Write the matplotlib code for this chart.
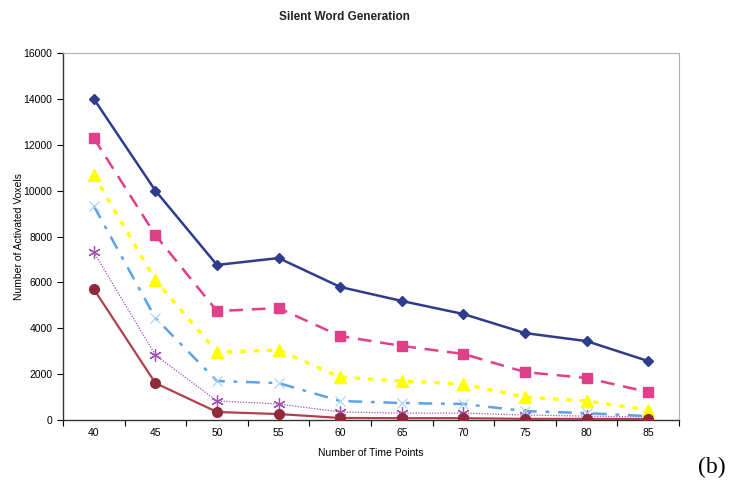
import numpy as np
import matplotlib
matplotlib.use("Agg")
import matplotlib.pyplot as plt

plt.rcParams["font.family"] = ["Liberation Sans", "DejaVu Sans"]

# time points and activated voxel counts for each threshold series
time_points = [40, 45, 50, 55, 60, 65, 70, 75, 80, 85]
s1 = [14000, 10000, 6760, 7060, 5800, 5190, 4620, 3790, 3440, 2570]
s2 = [12290, 8060, 4750, 4880, 3660, 3230, 2880, 2090, 1830, 1220]
s3 = [10680, 6100, 2960, 3050, 1870, 1700, 1570, 1000, 830, 440]
s4 = [9330, 4450, 1700, 1610, 830, 740, 700, 390, 300, 170]
s5 = [7320, 2830, 830, 700, 350, 300, 300, 220, 170, 130]
s6 = [5710, 1610, 350, 260, 90, 80, 80, 50, 50, 40]

fig = plt.figure(figsize=(7.29, 4.84), dpi=100)
ax = fig.add_axes([0.0864, 0.1322, 0.845, 0.7583])

x = np.arange(len(time_points))

ax.plot(x, s1, color="#2f3c8c", lw=1.8, marker="D", ms=5.5, zorder=6)
ax.plot(x, s2, color="#e0408a", lw=1.8, dashes=(5.5, 3.5), marker="s", ms=7, zorder=5)
ax.plot(x, s3, color="#ffff00", lw=2.4, dashes=(1.6, 2.4), marker="^", ms=8, zorder=4)
ax.plot(x, s4, color="#5ca2e6", lw=1.8, dashes=(5.5, 3.5, 1.5, 3.5), marker="x", ms=7,
        mew=0.8, mec="#a8d0f4", zorder=3)
ax.plot(x, s5, color="#a050b4", lw=0.9, ls=(0, (1, 1.2)), marker=(6, 2, 0), ms=9,
        mew=0.9, zorder=2)
ax.plot(x, s6, color="#b04050", lw=1.6, marker="o", ms=7, mfc="#8e2a3c",
        mec="#8e2a3c", zorder=7)

ax.set_xlim(-0.5, 9.5)
ax.set_ylim(0, 16000)
ax.set_yticks(np.arange(0, 16001, 2000))
ax.set_xticks(x)
ax.set_xticklabels([str(t) for t in time_points])
ax.set_xticks(np.arange(-0.5, 10, 1), minor=True)
ax.tick_params(axis="x", which="major", length=0, labelsize=7.5, pad=6)
ax.tick_params(axis="x", which="minor", length=4, direction="out", width=0.8)
ax.tick_params(axis="y", length=4, direction="out", width=0.8, labelsize=7.5)

for side in ["left", "bottom"]:
    ax.spines[side].set_color("#333333")
    ax.spines[side].set_linewidth(1)
for side in ["top", "right"]:
    ax.spines[side].set_color("#b0b0b0")
    ax.spines[side].set_linewidth(0.8)
ax.spines["top"].set_linestyle((0, (2, 1)))

ax.set_xlabel("Number of Time Points", fontsize=7.5, labelpad=7)
ax.set_ylabel("Number of Activated Voxels", fontsize=7.5, labelpad=0)
fig.text(0.473, 0.965, "Silent Word Generation", fontsize=8.5, fontweight="bold",
         ha="center", va="center", color="#222222")
fig.text(0.995, 0.035, "(b)", fontsize=17, family="Liberation Serif",
         ha="right", va="center")

fig.savefig("out.png", dpi=100)
